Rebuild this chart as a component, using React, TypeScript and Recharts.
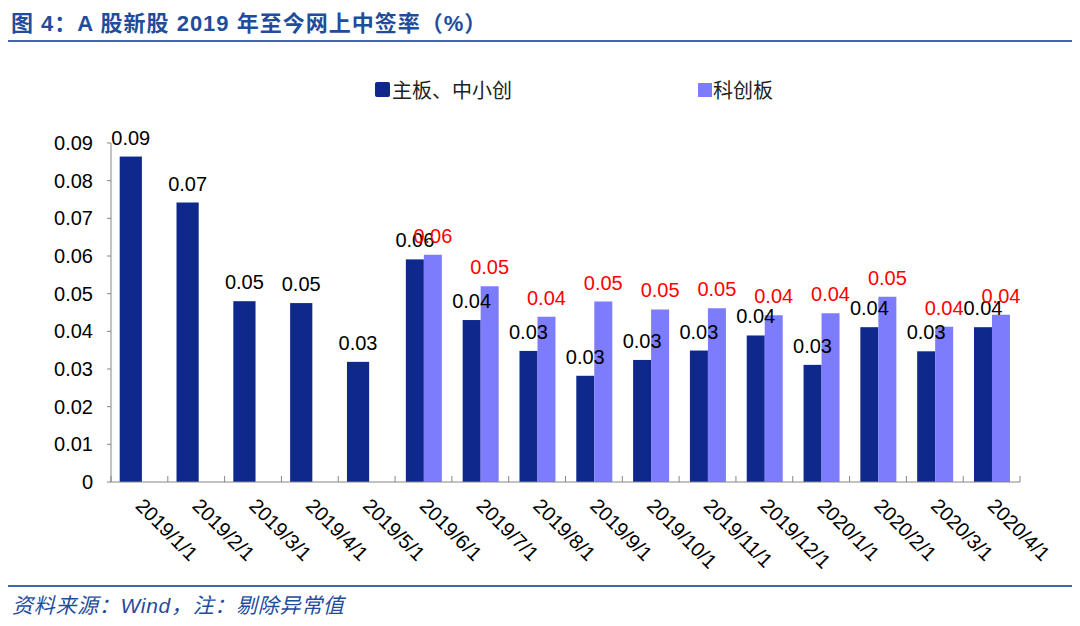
import { BarChart, Bar, XAxis, YAxis, LabelList } from "recharts";

const months = [
  "2019/1/1", "2019/2/1", "2019/3/1", "2019/4/1", "2019/5/1", "2019/6/1",
  "2019/7/1", "2019/8/1", "2019/9/1", "2019/10/1", "2019/11/1", "2019/12/1",
  "2020/1/1", "2020/2/1", "2020/3/1", "2020/4/1",
];
// 主板、中小创
const mainRates = [
  0.0864, 0.0742, 0.048, 0.0475, 0.0319, 0.0591, 0.043, 0.0348,
  0.0282, 0.0324, 0.0349, 0.0389, 0.0311, 0.0411, 0.0347, 0.0411,
];
// 科创板 (从 2019/6 开始)
const starRates = [
  null, null, null, null, null, 0.0603, 0.052, 0.0439,
  0.0479, 0.0458, 0.0461, 0.0443, 0.0448, 0.0492, 0.0412, 0.0444,
];
const yTicks = [0, 0.01, 0.02, 0.03, 0.04, 0.05, 0.06, 0.07, 0.08, 0.09];

const data = months.map((m, i) => ({ month: m, main: mainRates[i], star: starRates[i] }));

const MAIN = "#0f288c";
const STAR = "#7c7cfc";
const AXIS = "#868686";
const BLUE = "#1f4d9c";
const LATIN = '"Liberation Sans", Arial, "Noto Sans CJK SC", sans-serif';
const CJK = '"Liberation Sans", "Noto Sans CJK SC", sans-serif';

// 单独一根柱子时稍宽一些
const MainShape = (props: any) => {
  const { x, y, width, height, fill, payload } = props;
  const extra = payload && payload.star == null ? 2.1 : 0;
  return <rect x={x - extra} y={y} width={width + extra * 2} height={height} fill={fill} />;
};

const XTick = (props: any) => {
  const { x, y, payload, index } = props;
  const half = payload && payload.offset ? payload.offset : 28.4;
  const tx = x - 5;
  const ty = y + 25;
  return (
    <g>
      <line x1={x - half} y1={y} x2={x - half} y2={y - 6} stroke={AXIS} />
      {index === months.length - 1 && (
        <line x1={x + half} y1={y} x2={x + half} y2={y - 6} stroke={AXIS} />
      )}
      <text
        x={tx}
        y={ty}
        transform={`rotate(45, ${tx}, ${ty})`}
        textAnchor="start"
        fontSize={20}
        fontFamily={LATIN}
        fill="#000"
      >
        {payload.value}
      </text>
    </g>
  );
};

const fmt = (v: any) => (v == null ? "" : Number(v).toFixed(2));

export default function App() {
  return (
    <div style={{ position: "relative", width: 1080, height: 626, background: "#fff" }}>
      <style>{`body{margin:0}`}</style>
      <div
        style={{
          position: "absolute", left: 11, top: 5, fontSize: 22, fontWeight: "bold",
          color: BLUE, fontFamily: CJK, letterSpacing: 1, whiteSpace: "nowrap",
        }}
      >
        图 4：A 股新股 2019 年至今网上中签率（%）
      </div>
      <div style={{ position: "absolute", left: 8, top: 40, width: 1064, height: 2, background: "#4565ad" }} />

      <div
        style={{
          position: "absolute", left: 375, top: 75, display: "flex", alignItems: "center",
          fontSize: 20, color: "#222", fontFamily: CJK, whiteSpace: "nowrap",
        }}
      >
        <span style={{ width: 15, height: 15, background: MAIN, borderRadius: 2, display: "inline-block", marginRight: 2 }} />
        <span>主板、中小创</span>
        <span style={{ width: 14, height: 14, background: STAR, display: "inline-block", marginLeft: 186, marginRight: 1 }} />
        <span>科创板</span>
      </div>

      <div style={{ position: "absolute", left: 0, top: 0 }}>
        <BarChart
          width={1080}
          height={626}
          data={data}
          margin={{ top: 143, right: 60, bottom: 0, left: 51 }}
          barCategoryGap="19%"
          barGap={0}
        >
          <XAxis
            dataKey="month"
            interval={0}
            tickLine={false}
            tickSize={0}
            tickMargin={0}
            height={144}
            stroke={AXIS}
            tick={<XTick />}
          />
          <YAxis
            domain={[0, 0.09]}
            ticks={yTicks}
            interval={0}
            width={60}
            stroke={AXIS}
            tickSize={4}
            tickMargin={14}
            tickFormatter={(v: number) => (v === 0 ? "0" : v.toFixed(2))}
            tick={{ fontSize: 20, fill: "#000", fontFamily: LATIN }}
          />
          <Bar dataKey="main" fill={MAIN} isAnimationActive={false} shape={<MainShape />}>
            <LabelList
              dataKey="main"
              position="top"
              offset={12}
              formatter={fmt}
              style={{ fontSize: 20, fill: "#000", fontFamily: LATIN }}
            />
          </Bar>
          <Bar dataKey="star" fill={STAR} isAnimationActive={false}>
            <LabelList
              dataKey="star"
              position="top"
              offset={12}
              formatter={fmt}
              style={{ fontSize: 20, fill: "#ff0000", fontFamily: LATIN }}
            />
          </Bar>
        </BarChart>
      </div>

      <div style={{ position: "absolute", left: 8, top: 585, width: 1064, height: 2, background: "#4565ad" }} />
      <div
        style={{
          position: "absolute", left: 12, top: 589, fontSize: 21, fontStyle: "italic",
          color: BLUE, fontFamily: CJK, letterSpacing: 0.7, whiteSpace: "nowrap",
        }}
      >
        资料来源：Wind，注：剔除异常值
      </div>
    </div>
  );
}
